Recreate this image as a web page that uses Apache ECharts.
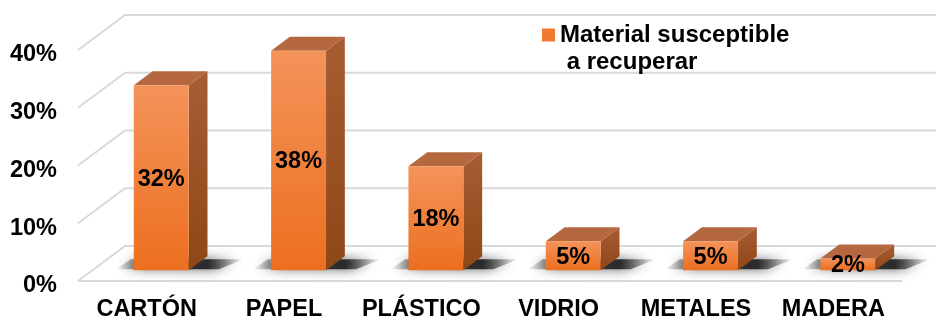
<!DOCTYPE html>
<html>
<head>
<meta charset="utf-8">
<script src="https://cdn.jsdelivr.net/npm/echarts@6/dist/echarts.min.js"></script>
<style>
html,body{margin:0;padding:0;background:#fff;}
#chart{width:936px;height:322px;}
</style>
</head>
<body>
<div id="chart"></div>
<script>
var categories = ['CARTÓN', 'PAPEL', 'PLÁSTICO', 'VIDRIO', 'METALES', 'MADERA'];
var values = [32, 38, 18, 5, 5, 2];
var yTicks = [0, 10, 20, 30, 40];
var seriesName = 'Material susceptible a recuperar';
var legendLines = ['Material susceptible', ' a recuperar'];

var FONT = '"Liberation Sans", Arial, sans-serif';
var FS = 23.5;
var DX = 47, DY = -35;      // full depth of the 3D box
var F1 = 0.31, F2 = 0.71;   // bar front / back depth fractions

var chart = echarts.init(document.getElementById('chart'));

function barRender(params, api) {
  var cat = api.value(0), v = api.value(1);
  var base = api.coord([cat, 0]);
  var top = api.coord([cat, v]);
  var bw = api.size([1, 0])[0] * 0.4;
  var ox1 = DX * F1, oy1 = DY * F1;
  var ddx = DX * (F2 - F1), ddy = DY * (F2 - F1);
  var xl = base[0] - bw / 2 + ox1, xr = base[0] + bw / 2 + ox1;
  var yb = base[1] + oy1, yt = top[1] + oy1;
  var ext = 20;
  return {
    type: 'group',
    children: [
      {
        type: 'polygon',
        shape: { points: [[xl - ext + 2, yb - 1], [xl - ext + ddx - 2, yb + ddy + 3], [xr + ddx + ext + 16, yb + ddy + 3], [xr + ext + 10, yb - 1]] },
        style: {
          fill: new echarts.graphic.LinearGradient(0, 0, 1, 0, [
            { offset: 0, color: 'rgba(30,30,30,0)' },
            { offset: 0.25, color: 'rgba(30,30,30,0.8)' },
            { offset: 0.72, color: 'rgba(30,30,30,0.9)' },
            { offset: 1, color: 'rgba(30,30,30,0)' }
          ]),
          shadowBlur: 12,
          shadowColor: 'rgba(0,0,0,0.7)'
        }
      },
      {
        type: 'polygon',
        shape: { points: [[xr, yt], [xr + ddx, yt + ddy], [xr + ddx, yb + ddy], [xr, yb]] },
        style: {
          fill: new echarts.graphic.LinearGradient(0, 0, 0, 1, [
            { offset: 0, color: '#A85C33' },
            { offset: 1, color: '#8E4717' }
          ])
        }
      },
      {
        type: 'polygon',
        shape: { points: [[xl, yt], [xl + ddx, yt + ddy], [xr + ddx, yt + ddy], [xr, yt]] },
        style: { fill: '#B5683F' }
      },
      {
        type: 'rect',
        shape: { x: xl, y: yt, width: bw, height: yb - yt },
        style: {
          fill: new echarts.graphic.LinearGradient(0, 0, 0, 1, [
            { offset: 0, color: '#F4935A' },
            { offset: 1, color: '#EC6F1F' }
          ])
        }
      },
      {
        type: 'text',
        style: {
          text: v + '%',
          x: (xl + xr) / 2,
          y: (yt + yb) / 2 + 1.5,
          align: 'center',
          verticalAlign: 'middle',
          fill: '#000',
          font: 'bold ' + FS + 'px ' + FONT
        }
      }
    ]
  };
}

chart.setOption({
  animation: false,
  backgroundColor: '#ffffff',
  textStyle: { fontFamily: FONT },
  grid: { left: 78, right: 34, top: 50, bottom: 41, containLabel: false },
  legend: {
    data: [seriesName],
    left: 542,
    top: -4,
    padding: 0,
    icon: 'rect',
    itemWidth: 13,
    itemHeight: 13,
    formatter: function () {
      return '{e| }\n{a|' + legendLines[0] + '}\n{a|' + legendLines[1] + '}';
    },
    textStyle: {
      rich: {
        e: { fontSize: 24, lineHeight: 27, fontFamily: FONT },
        a: { fontSize: 24, lineHeight: 27, fontWeight: 'bold', color: '#000', fontFamily: FONT }
      }
    }
  },
  xAxis: {
    type: 'category',
    data: categories,
    axisLine: { show: false },
    axisTick: { show: false },
    axisLabel: { fontSize: FS, fontWeight: 'bold', color: '#000', margin: 17, fontFamily: FONT, interval: 0 }
  },
  yAxis: {
    type: 'value',
    min: 0,
    max: 40,
    interval: 10,
    axisLine: { show: false },
    axisTick: { show: false },
    splitLine: { show: false },
    axisLabel: {
      color: '#000',
      margin: 21,
      formatter: function (v) { return '{v|' + v + '%}'; },
      rich: {
        v: { fontSize: FS, fontWeight: 'bold', color: '#000', fontFamily: FONT, padding: [10, 0, 0, 0] }
      }
    }
  },
  series: [
    {
      name: 'grid3d',
      type: 'custom',
      clip: false,
      silent: true,
      z: 1,
      encode: { y: 0 },
      data: yTicks.map(function (t) { return [t]; }),
      renderItem: function (params, api) {
        var v = api.value(0);
        var cs = params.coordSys;
        var y = api.coord([0, v])[1];
        var x0 = cs.x, x1 = cs.x + cs.width;
        var children = [{
          type: 'polyline',
          shape: { points: [[x0, y], [x0 + DX, y + DY], [x1 + DX + 40, y + DY]] },
          style: { stroke: '#D9D9D9', lineWidth: 2, fill: null }
        }];
        if (v === 0) {
          children.push({
            type: 'line',
            shape: { x1: x0, y1: y, x2: x1, y2: y },
            style: { stroke: '#D9D9D9', lineWidth: 2 }
          });
        }
        return { type: 'group', children: children };
      }
    },
    {
      name: seriesName,
      type: 'custom',
      clip: false,
      z: 2,
      itemStyle: { color: '#F07A30' },
      encode: { x: 0, y: 1 },
      data: categories.map(function (c, i) { return [i, values[i]]; }),
      renderItem: barRender
    }
  ]
});
</script>
</body>
</html>
